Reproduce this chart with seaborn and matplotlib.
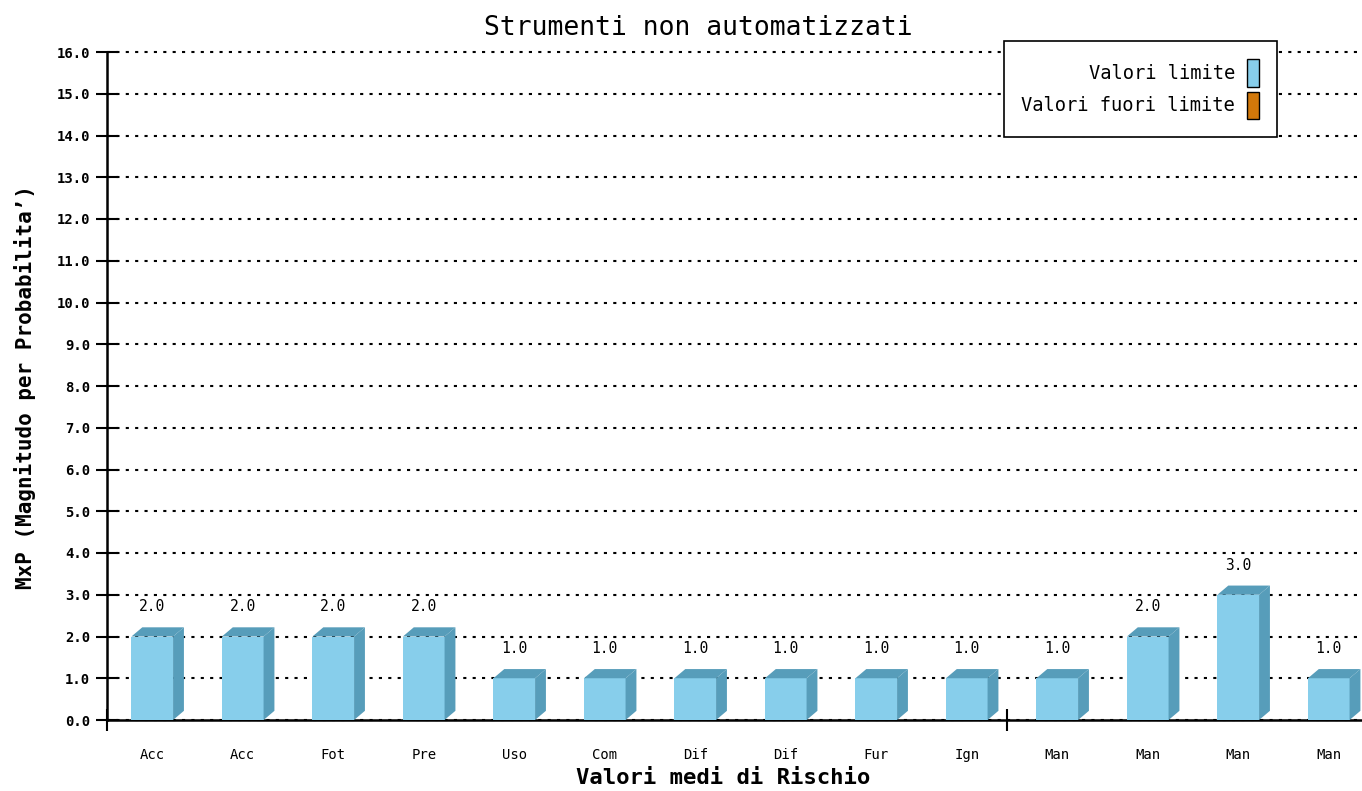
import matplotlib
matplotlib.use('Agg')
import matplotlib.pyplot as plt
from matplotlib.patches import Patch, Polygon
import seaborn as sns
import pandas as pd

# dati
categorie = ["Acc", "Acc", "Fot", "Pre", "Uso", "Com", "Dif", "Dif", "Fur", "Ign", "Man", "Man", "Man", "Man"]
valori = [2.0, 2.0, 2.0, 2.0, 1.0, 1.0, 1.0, 1.0, 1.0, 1.0, 1.0, 2.0, 3.0, 1.0]
y_ticks = [float(v) for v in range(0, 17)]
voci_legenda = ["Valori limite", "Valori fuori limite"]

COL_FRONT = "#87CEEB"
COL_SIDE = "#579DBA"
COL_FUORI = "#D2780A"
FONT = "DejaVu Sans Mono"

df = pd.DataFrame({"pos": list(range(len(valori))), "valore": valori})

sns.set_style("white")
plt.rcParams['font.family'] = [FONT]
plt.rcParams['text.color'] = "black"
plt.rcParams['xtick.color'] = "black"
plt.rcParams['ytick.color'] = "black"

fig = plt.figure(figsize=(13.62, 7.91), dpi=100)
ax = fig.add_axes([107 / 1362, 71 / 791, 1267 / 1362, 668 / 791])

w = 0.46
dx, dy = 0.12, 0.22
sns.barplot(data=df, x="pos", y="valore", color=COL_FRONT, width=w,
            saturation=1, edgecolor="none", linewidth=0, ax=ax, zorder=3)

# finto effetto 3D: lato e tetto
for i, v in enumerate(valori):
    r = i + w / 2
    l = i - w / 2
    side = Polygon([(r, 0), (r + dx, dy), (r + dx, v + dy), (r, v)],
                   closed=True, facecolor=COL_SIDE, edgecolor="none", zorder=3)
    top = Polygon([(l, v), (l + dx, v + dy), (r + dx, v + dy), (r, v)],
                  closed=True, facecolor=COL_SIDE, edgecolor="none", zorder=3)
    ax.add_patch(side)
    ax.add_patch(top)
    ax.text(i, v + 0.71, f"{v:.1f}", ha="center", va="center",
            fontsize=10.5, color="black", zorder=4)

ax.set_xlim(-0.5, len(valori) - 0.5)
ax.set_ylim(0, 16)
ax.set_yticks(y_ticks)
ax.set_yticklabels([f"{t:.1f}" for t in y_ticks], fontsize=10, fontweight="bold")
ax.set_xticks(range(len(categorie)))
ax.set_xticklabels(categorie, fontsize=10)
ax.tick_params(axis="x", which="major", bottom=True, length=0, pad=20)
ax.tick_params(axis="y", left=True, direction="inout", length=16, width=1.5, pad=4)
ax.set_xticks([-0.5, 9.45], minor=True)
ax.tick_params(axis="x", which="minor", bottom=True, direction="inout", length=16, width=1.5)

ax.yaxis.grid(True, color="black", linestyle=(0, (1.5, 3)), linewidth=1.5, zorder=0)
for gl in ax.get_ygridlines():
    gl.set_clip_on(False)
ax.set_axisbelow(True)
for s in ["top", "right"]:
    ax.spines[s].set_visible(False)
for s in ["left", "bottom"]:
    ax.spines[s].set_color("black")
    ax.spines[s].set_linewidth(1.8)
    ax.spines[s].set_zorder(2.5)

ax.set_xlabel("")
ax.set_ylabel("")
fig.text(723 / 1362, 1 - 778 / 791, "Valori medi di Rischio", ha="center", va="center",
         fontsize=16, fontweight="bold")
fig.text(25 / 1362, 1 - 387 / 791, "MxP (Magnitudo per Probabilita’)", ha="center", va="center",
         rotation=90, fontsize=15, fontweight="bold")
fig.text(698 / 1362, 1 - 28 / 791, "Strumenti non automatizzati", ha="center", va="center",
         fontsize=19)

handles = [Patch(facecolor=COL_FRONT, edgecolor="black", linewidth=1),
           Patch(facecolor=COL_FUORI, edgecolor="black", linewidth=1)]
leg = ax.legend(handles, voci_legenda, loc="upper right", bbox_to_anchor=(0.9234, 1.0165),
                borderaxespad=0, markerfirst=False, fontsize=13.5, frameon=True,
                fancybox=False, framealpha=1, handlelength=0.64, handleheight=1.9,
                handletextpad=0.64, labelspacing=0.27, borderpad=0.95)
leg.set_zorder(10)
leg.get_frame().set_edgecolor("black")
leg.get_frame().set_linewidth(1.2)
for t in leg.get_texts():
    t.set_ha("right")
leg._legend_box.align = "right"

plt.savefig("out.png", dpi=100)
plt.close()
